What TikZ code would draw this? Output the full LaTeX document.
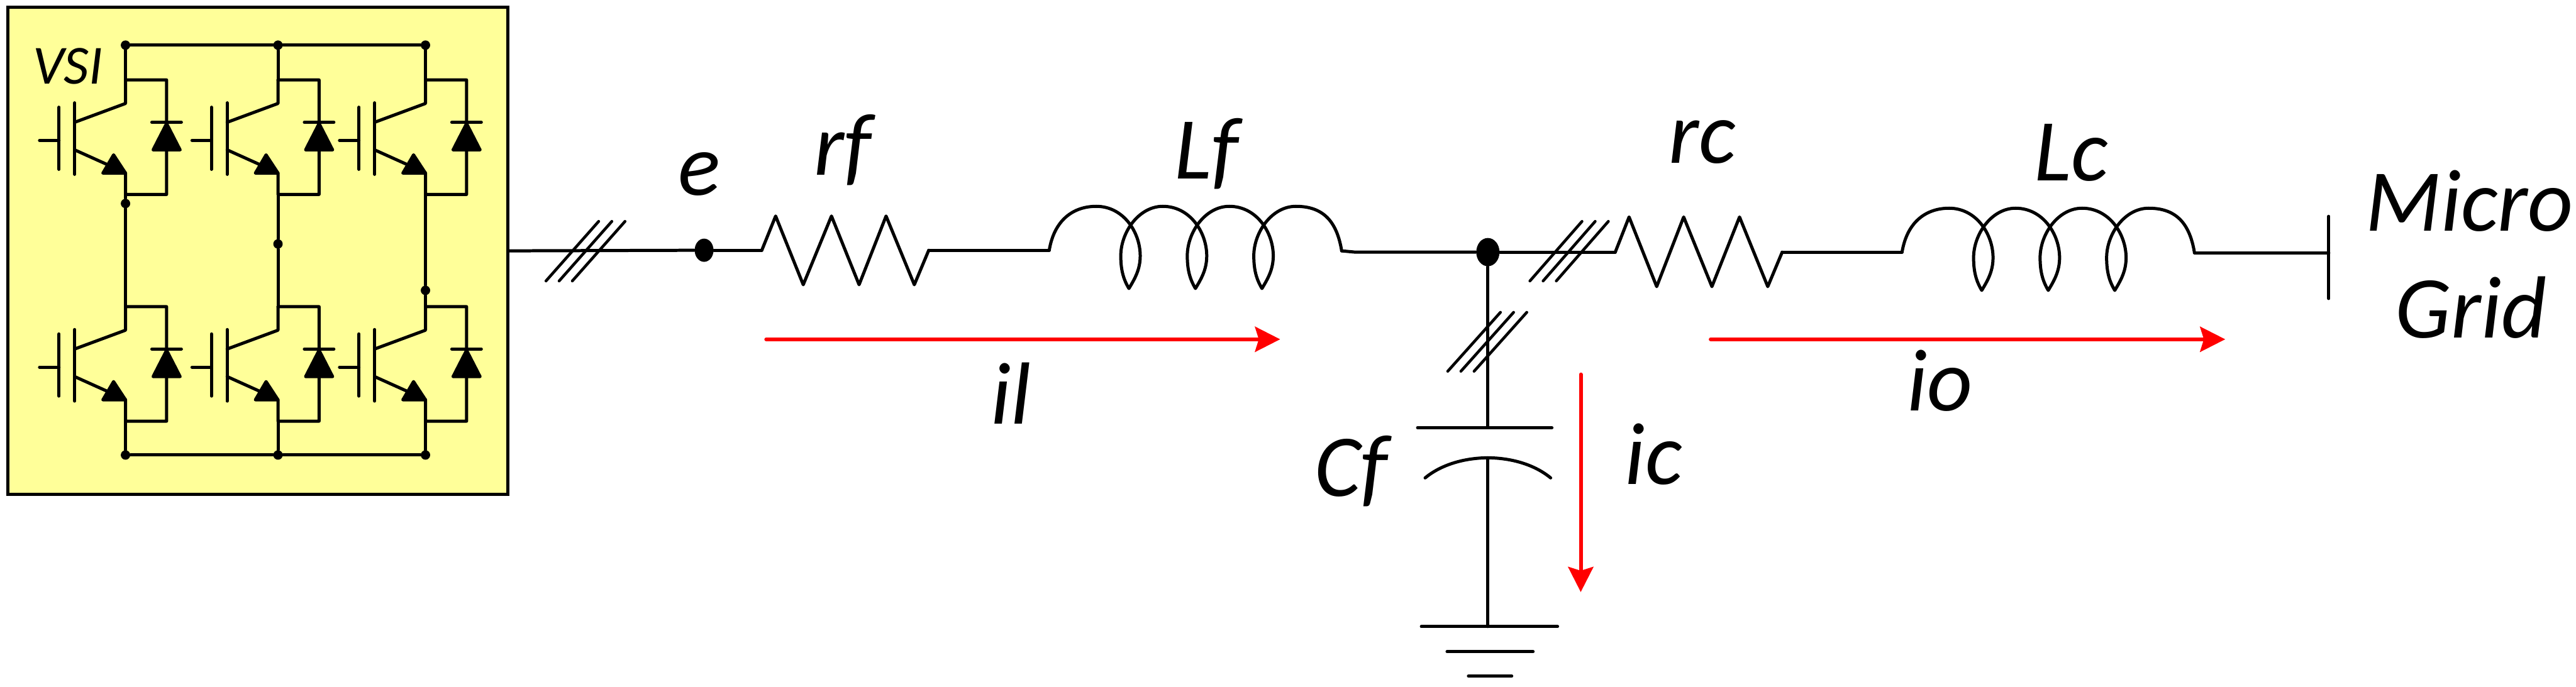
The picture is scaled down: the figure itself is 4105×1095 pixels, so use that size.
\documentclass[tikz,border=0pt]{standalone}
\usepackage{fontspec}
\setmainfont{Carlito}
\usetikzlibrary{arrows.meta,shapes,positioning}
\definecolor{vsiyellow}{RGB}{255,255,153}
\definecolor{flowred}{RGB}{255,0,0}
\tikzstyle{wire} = [line width=0.05cm, line cap=round, line join=round, color=black]
\tikzstyle{tick} = [line width=0.045cm, line cap=round, color=black]
\tikzstyle{flow} = [line width=0.06cm, line cap=round, color=flowred, -{Stealth[length=0.40cm,width=0.40cm,inset=0.06cm]}]
\tikzstyle{bigdot} = [ellipse, fill=black, inner sep=0pt, minimum width=0.30cm, minimum height=0.37cm]
\tikzstyle{smalldot} = [circle, fill=black, inner sep=0pt, minimum size=0.15cm]
\tikzstyle{cirtext} = [anchor=base, inner sep=0pt, font=\fontsize{40}{48}\selectfont\itshape]
\tikzstyle{vsibox} = [rectangle, draw=black, fill=vsiyellow, line width=0.05cm, minimum width=7.96cm, minimum height=7.76cm, inner sep=0pt]
% one switch with its diode
\newcommand{\igbtcell}[2]{
\begin{scope}[shift={(#1,#2)}]
\draw[wire] (0,127.5) -- (0,165) -- (-81,195);
\draw[wire] (0,127.5) -- (65.5,127.5) -- (65.5,310) -- (0,310) -- (0,275.5) -- (-81,239);
\filldraw[wire] (-19,247) -- (-36,276) -- (0,276) -- cycle;
\draw[wire] (-81,164) -- (-81,278);
\draw[wire] (-106,171) -- (-106,270);
\draw[wire] (-137,224) -- (-106,224);
\draw[wire] (42,195) -- (89,195);
\filldraw[wire] (65.5,197) -- (44,239) -- (87,239) -- cycle;
\end{scope}
}
% three turns of winding
\newcommand{\coil}[2]{
\begin{scope}[shift={(#1,#2)}]
\draw[wire] (0,0) .. controls (8,-48) and (38,-70) .. (75,-70);
\foreach \x in {0,106,212} {
\draw[wire, shift={(\x,0)}] (75,-70) .. controls (118,-70) and (145,-29) .. (145,9) .. controls (145,31) and (136,46) .. (127,61) .. controls (118,46) and (114,31) .. (114,9) .. controls (114,-29) and (143,-70) .. (181,-70);
}
\draw[wire] (393,-70) .. controls (435,-70) and (458,-48) .. (466,1);
\end{scope}
}
\begin{document}
\begin{tikzpicture}[x=0.01cm, y=-0.01cm]
\useasboundingbox (0,0) rectangle (4105,1095);

% Inverter
\node (vsi) [vsibox] at (411,400) {};
\node (vsilabel) [cirtext, font=\fontsize{25}{30}\selectfont\itshape] at (108,134) {VSI};

\foreach \i/\leg/\mid in {1/200/324.5, 2/443/389, 3/678/463} {
\node (t\i) [smalldot] at (\leg,72) {};
\node (m\i) [smalldot] at (\leg,\mid) {};
\node (b\i) [smalldot] at (\leg,725.5) {};
\coordinate (upin\i) at (\leg,127.5);
\coordinate (upout\i) at (\leg,310);
\coordinate (lowin\i) at (\leg,489);
\coordinate (lowout\i) at (\leg,672);
\igbtcell{\leg}{0}
\igbtcell{\leg}{361.5}
\draw[wire] (t\i) -- (upin\i);
\draw[wire] (upout\i) -- (m\i) -- (lowin\i);
\draw[wire] (lowout\i) -- (b\i);
}
\draw[wire] (t1) -- (t2) -- (t3);
\draw[wire] (b1) -- (b2) -- (b3);

% Filter branch
\node (e) [bigdot] at (1122,399) {};
\node (pcc) [bigdot, minimum width=0.37cm, minimum height=0.45cm] at (2371,402) {};
\coordinate (rfin) at (1214,399);
\coordinate (rfout) at (1480,399);
\coordinate (lfin) at (1672,399);
\coordinate (lfout) at (2138,400);
\coordinate (rcin) at (2574,402);
\coordinate (rcout) at (2840,402);
\coordinate (lcin) at (3031,402);
\coordinate (lcout) at (3497,403);
\coordinate (gridbus) at (3711,403);
\coordinate (gridtop) at (3711,345);
\coordinate (gridbot) at (3711,476);

\draw[wire] (vsi.east) -- (e);
\draw[wire] (e) -- (rfin);
\draw[wire] (rfin) -- (1236,344.5) -- (1280,454) -- (1325,344.5) -- (1369,454) -- (1412,344.5) -- (1457,454) -- (rfout);
\draw[wire] (rfout) -- (lfin);
\coil{1672}{399}
\draw[wire] (lfout) -- (2159,402) -- (pcc);
\draw[wire] (pcc) -- (rcin);
\draw[wire] (rcin) -- (2596,346) -- (2640,457) -- (2683,346) -- (2728,457) -- (2772,346) -- (2817,457) -- (rcout);
\draw[wire] (rcout) -- (lcin);
\coil{3031}{402}
\draw[wire] (lcout) -- (gridbus);
\draw[wire] (gridtop) -- (gridbot);

% Three phase marks
\foreach \dx in {0,21,42} {
\draw[tick] (870+\dx,448) -- (954+\dx,353);
\draw[tick] (2438+\dx,448) -- (2521+\dx,353);
\draw[tick] (2307+\dx,592) -- (2391+\dx,498);
}

% Capacitor and ground
\coordinate (capin) at (2371,682);
\coordinate (capout) at (2371,730);
\coordinate (gnd) at (2371,999);
\draw[wire] (pcc) -- (capin);
\draw[wire] (2259,682) -- (2473,682);
\draw[wire] (2271,762) .. controls (2300,738) and (2340,730) .. (capout) .. controls (2402,730) and (2442,738) .. (2471,762);
\draw[wire] (capout) -- (gnd);
\draw[wire] (2265,999) -- (2482,999);
\draw[wire] (2306,1039) -- (2443,1039);
\draw[wire] (2340,1078) -- (2409,1078);

% Currents
\coordinate (ilstart) at (1221,541);
\coordinate (ilend) at (2040,541);
\coordinate (iostart) at (2726,541);
\coordinate (ioend) at (3546,541);
\coordinate (icstart) at (2519,597);
\coordinate (icend) at (2519,944);
\draw[flow] (ilstart) -- (ilend);
\draw[flow] (iostart) -- (ioend);
\draw[flow] (icstart) -- (icend);

% Labels
\node (elabel) [cirtext] at (1114,311) {e};
\node (rflabel) [cirtext] at (1343,279) {rf};
\node (lflabel) [cirtext] at (1923,285) {Lf};
\node (illabel) [cirtext] at (1611,676) {il};
\node (cflabel) [cirtext] at (2153,791) {Cf};
\node (rclabel) [cirtext] at (2713,260) {rc};
\node (lclabel) [cirtext] at (3300,288) {Lc};
\node (iolabel) [cirtext] at (3091,655) {io};
\node (iclabel) [cirtext] at (2635,772) {ic};
\node (micro) [cirtext] at (3935,368) {Micro};
\node (gridlabel) [cirtext] at (3938,539) {Grid};
\end{tikzpicture}
\end{document}
